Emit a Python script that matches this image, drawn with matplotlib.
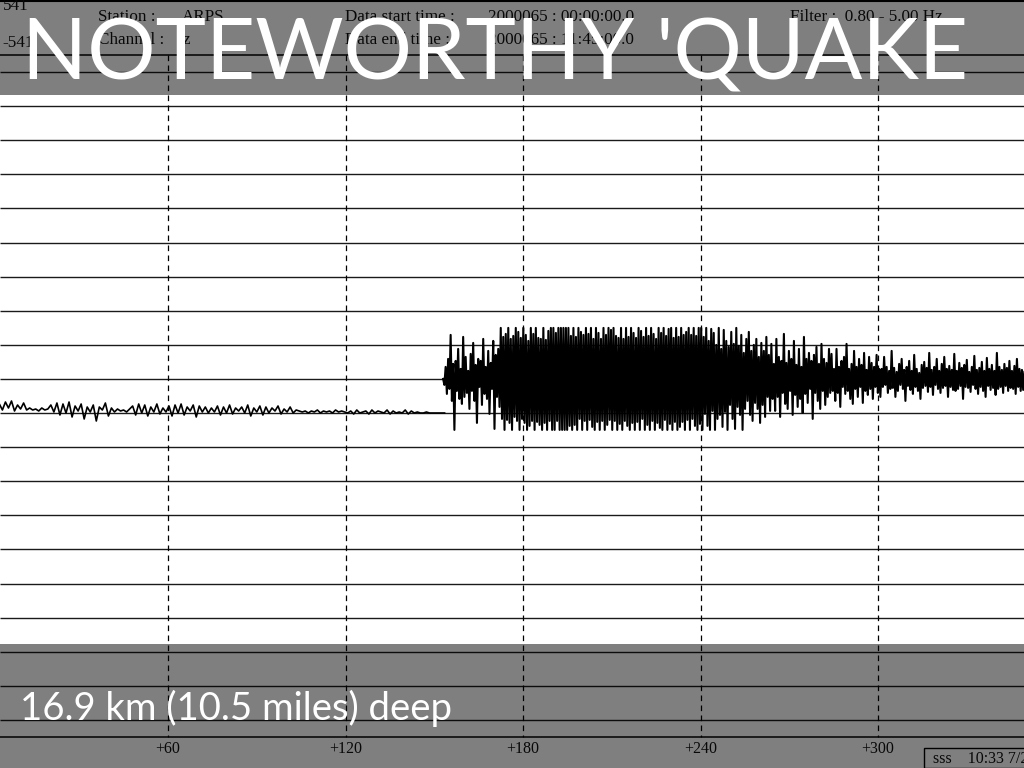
import matplotlib
matplotlib.use('Agg')
import matplotlib.pyplot as plt
from matplotlib.patches import Rectangle
import numpy as np

# keep every swing of the dense trace (no path thinning)
plt.rcParams['path.simplify'] = False

# ---- data (deflection in px, + is up) ----
# main shock trace, starts ~153 s and runs off the right edge
quake_values = [
    # onset, 153-172 s
    0, -6, 12, -15, 20, -10, 44, -22, 15, -51, 18, -12, 30, -20, 10, -25, 42, -18, 22, -14,
    8, -30, 25, -12, 36, -22, 14, -44, 20, -8, 18, -26, 40, -15, 12, -20, 28, -35, 16, -10,
    38, -50, 24, -18, 30, -28,
    # strongest part, clipped, 172-240 s
    51, -40, 42, -51, 45, -41, 51, -44, 40, -51, 43, -38, 51, -42, 47, -51, 41, -40, 51, -44,
    44, -51, 38, -47, 51, -42, 45, -51, 51, -43, 41, -46, 40, -51, 51, -44, 39, -51, 48, -42,
    51, -51, 51, -51, 46, -42, 51, -51, 51, -51, 51, -51, 51, -51, 51, -47, 43, -51, 51, -46,
    42, -51, 51, -40, 47, -51, 44, -42, 51, -51, 45, -41, 51, -48, 40, -51, 51, -43, 46, -51,
    40, -42, 51, -51, 44, -46, 51, -41, 49, -51, 51, -42, 43, -51, 41, -45, 51, -51, 40, -42,
    51, -47, 42, -51, 51, -44, 46, -51, 41, -43, 51, -51, 48, -40, 42, -51, 51, -46, 43, -51,
    51, -42, 45, -51, 40, -44, 51, -49, 46, -51, 51, -41, 43, -51, 50, -45, 51, -51, 41, -43,
    51, -51, 42, -48, 51, -43, 44, -51, 47, -41, 51, -51, 44, -40, 51, -47, 43, -51, 51, -45,
    # decaying, 240-264 s
    51, -51, 42, -35, 51, -47, 38, -51, 50, -32, 46, -51, 34, -40, 51, -36, 30, -48, 49, -33,
    38, -51, 32, -26, 47, -40, 35, -50, 51, -28, 33, -36, 44, -51, 26, -30, 40, -22, 47, -36,
    28, -42, 34, -24, 40, -30, 22, -44, 36, -26, 28, -38, 42, -18, 24, -32,
    # coda, 264-284 s
    35, -20, 15, -32, 40, -18, 22, -38, 18, -14, 45, -25, 16, -30, 28, -12, 20, -36, 38, -16,
    14, -28, 30, -20, 12, -34, 42, -15, 20, -24, 26, -10, 18, -40, 24, -14, 32, -22, 15, -30,
    35, -12, 20, -26, 16, -18, 30, -14,
    # 284-301 s
    25, -12, 10, -22, 30, -14, 12, -28, 18, -8, 22, -15, 35, -12, 10, -20, 15, -25, 28, -10,
    12, -18, 20, -8, 14, -24, 26, -12, 9, -16, 22, -10, 16, -20, 12, -8, 24, -14, 10, -18,
    # tail, 301-349 s
    10, -8, 22, -6, 12, -14, 8, -10, 28, -9, 11, -18, 7, -12, 15, -6, 20, -10, 9, -22,
    12, -7, 18, -11, 8, -15, 24, -8, 10, -12, 6, -20, 14, -9, 17, -7, 11, -13, 26, -8,
    9, -16, 12, -6, 20, -10, 8, -14, 15, -9, 22, -7, 10, -18, 13, -8, 9, -11, 25, -12,
    8, -10, 16, -7, 11, -20, 14, -8, 19, -9, 7, -13, 12, -6, 23, -10, 9, -15, 11, -8,
    17, -12, 8, -18, 21, -7, 10, -11, 14, -9, 8, -16, 26, -10, 12, -8, 9, -14, 15, -7,
    11, -12, 18, -9, 8, -10, 13, -15, 20, -8, 10, -12, 9, -11, 7,
]
quake_start, quake_end = 153.0, 349.5

# background noise on the next line down, 3-153 s
noise_values = [
    9, 3, 11, 5, 12, 2, 8, 4, 10, 3,
    5, 3, 4, 2, 5, 3, 4,
    8, 1, 10, -2, 9, 0, 11, -4, 7, 2, 9, -6, 6, 1, 8,
    -8, 6, 3, 10, -3, 5, 1, 4,
    2, 3, 1, 4, 7, -2, 9, 0, 8, -3, 6, 1, 9, -1, 5,
    1, 7, -3, 8, 0, 9, -2, 6, 2, 8, -4, 7, 1, 6, 0,
    5, 1, 7, -2, 6, 0, 8, -1, 5, 2,
    6, 0, 8, -3, 5, 1, 7, -2, 6, 0, 5, 2, 7, -1, 4, 1, 6, 0, 3, 2,
    1, 2, 0, 2, 1, 3, 0, 2, 1, 2, 0, 3, 1, 2, 1,
    0, 2, -1, 3, 0, 1, 2, -1, 3, 0, 2, 1, 0, 3, -1, 2, 0, 1,
    0, 3, -1, 2, 0, 1, 0, 0, 1, 0, 0, 0, 0, 0, 0,
]
noise_start, noise_end = 3.0, 153.5

tick_seconds = [60, 120, 180, 240, 300]
tick_labels = ['+60', '+120', '+180', '+240', '+300']

# ---- layout (pixels) ----
W, H = 1024, 768
SEC_PX = 177.5 / 60.0      # px per second
X0 = -9.5                  # px position of t = 0
ROW_TOP, ROW_STEP, N_ROWS = 72, 34.1, 20
QUAKE_ROW, NOISE_ROW = 9, 10
FRAME_TOP, FRAME_BOT = 55, 737
CLIP = 51

fig = plt.figure(figsize=(W / 100, H / 100), dpi=100)
fig.patch.set_facecolor('white')
ax = fig.add_axes([0, 0, 1, 1])
xmin, xmax = -X0 / SEC_PX, (W - X0) / SEC_PX
ax.set_xlim(xmin, xmax)
ax.set_ylim(H, 0)
ax.axis('off')

rows = ROW_TOP + ROW_STEP * np.arange(N_ROWS)

# helicorder lines
ax.hlines(rows, xmin, xmax, colors='#1a1a1a', lw=1.0, zorder=1)
ax.hlines([FRAME_TOP, FRAME_BOT], xmin, xmax, colors='black', lw=1.1, zorder=1)
ax.hlines([1], xmin, xmax, colors='black', lw=1.5, zorder=1)
ax.vlines(tick_seconds, FRAME_TOP, FRAME_BOT, colors='black', lw=0.9,
          linestyles=(0, (4.5, 3.5)), zorder=2)

# traces
qv = np.clip(np.array(quake_values, dtype=float), -CLIP, CLIP)
qt = np.linspace(quake_start, quake_end, len(qv))
ax.plot(qt, rows[QUAKE_ROW] - qv, color='black', lw=1.5, zorder=3)

nv = np.array(noise_values, dtype=float)
nt = np.linspace(noise_start, noise_end, len(nv))
ax.plot(nt, rows[NOISE_ROW] - nv, color='black', lw=1.2, zorder=3)

# header / footer text of the seismogram
serif = 'Liberation Serif'
def px_text(x, y, s, **kw):
    kw.setdefault('family', serif)
    kw.setdefault('fontsize', 12.3)
    kw.setdefault('color', '#111111')
    kw.setdefault('va', 'center')
    fig.text(x / W, 1 - y / H, s, zorder=3, **kw)

px_text(3, 6, '541')
px_text(2, 43, '-541')
px_text(98, 17, 'Station :')
px_text(182, 17, 'ARPS')
px_text(98, 40, 'Channel :')
px_text(183, 40, 'z')
px_text(345, 17, 'Data start time :')
px_text(488, 17, '2000065 : 00:00:00.0')
px_text(345, 40, 'Data end time :')
px_text(488, 40, '2000065 : 11:45:00.0')
px_text(790, 17, 'Filter :  0.80 - 5.00 Hz')

for s, lab in zip(tick_seconds, tick_labels):
    ax.text(s, 749, lab, ha='center', va='center', family=serif,
            fontsize=11.5, color='#111111', zorder=3)

fig.add_artist(Rectangle((924 / W, 0), 0.2, (H - 748) / H, transform=fig.transFigure,
                         facecolor='white', edgecolor='black', lw=1.0, zorder=3))
px_text(933, 759, 'sss    10:33 7/27/2000', fontsize=11.5)

# dark overlay bands
fig.add_artist(Rectangle((0, 1 - 95 / H), 1, 95 / H, transform=fig.transFigure,
                         facecolor='black', alpha=0.5, lw=0, zorder=10))
fig.add_artist(Rectangle((0, 0), 1, (H - 644) / H, transform=fig.transFigure,
                         facecolor='black', alpha=0.5, lw=0, zorder=10))

# slide title and caption
fig.text(22 / W, 1 - 79 / H, "NOTEWORTHY 'QUAKE", family='Lato', fontsize=61.5,
         color='white', ha='left', va='baseline', zorder=11)
fig.text(20 / W, 1 - 720 / H, '16.9 km (10.5 miles) deep', family='Lato', fontsize=27.5,
         color='white', ha='left', va='baseline', zorder=11)

fig.savefig('out.png', dpi=100)
